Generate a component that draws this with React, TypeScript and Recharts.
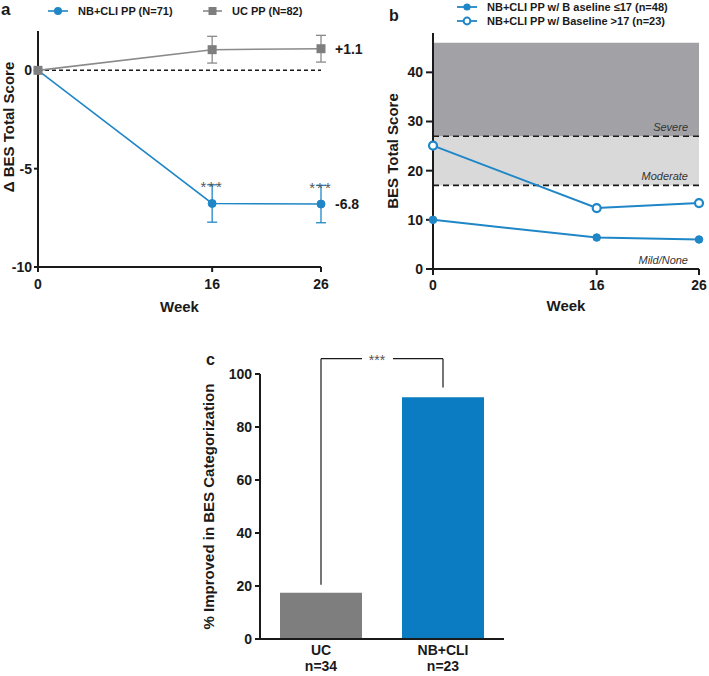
import React from 'react';
import {
  LineChart, Line, BarChart, Bar, Cell, XAxis, YAxis, ErrorBar,
  ReferenceLine, ReferenceArea, LabelList,
} from 'recharts';

// panel a: change from baseline
const weeks = [0, 16, 26];
const nbCliChange = [0, -6.77, -6.8];
const nbCliErr = [null, 0.95, 0.95];
const ucChange = [0, 1.05, 1.1];
const ucErr = [null, 0.68, 0.68];
const nbCliSig = [null, '***', '***'];

// panel b: absolute BES score by baseline group
const lowBaseline = [10.0, 6.4, 6.0];
const highBaseline = [25.1, 12.4, 13.4];
const severityBands = [
  { name: 'Mild/None', from: 0, to: 17, fill: 'none' },
  { name: 'Moderate', from: 17, to: 27, fill: '#d9d9da' },
  { name: 'Severe', from: 27, to: 46, fill: '#a2a2a6' },
];
const cutoffs = [17, 27];

// panel c: % improved
const groups = ['UC', 'NB+CLI'];
const groupN = [34, 23];
const pctImproved = [17.5, 91.2];
const bracketEnds = [20.5, 94.9];
const bracketTop = 105.8;

const FONT = '"Liberation Sans", Arial, Helvetica, sans-serif';
const BLUE = '#1f86c7';
const BAR_BLUE = '#0b7cc1';
const GREY = '#8a8a8a';
const GREY_MARK = '#7e7e7e';
const INK = '#1a1a1a';

const tick = { fill: INK, fontSize: 14, fontWeight: 700, fontFamily: FONT };
const title = { fill: INK, fontSize: 15, fontWeight: 700, fontFamily: FONT };
const axisLine = { stroke: INK, strokeWidth: 2 };
const tickLine = { stroke: INK, strokeWidth: 2 };

const dataA = weeks.map((w, i) => ({
  week: w,
  nb: nbCliChange[i],
  nbErr: nbCliErr[i],
  uc: ucChange[i],
  ucErr: ucErr[i],
  sig: nbCliSig[i],
  nbEnd: i === weeks.length - 1 ? nbCliChange[i] : null,
  ucEnd: i === weeks.length - 1 ? ucChange[i] : null,
}));

const dataB = weeks.map((w, i) => ({ week: w, low: lowBaseline[i], high: highBaseline[i] }));

const dataC = groups.map((g, i) => ({ group: g, pct: pctImproved[i] }));

const signed = (v: any) => (v == null ? '' : (v > 0 ? '+' : '') + Number(v).toFixed(1));

const SquareDot = (props: any) => {
  const { cx, cy, index } = props;
  if (cx == null || cy == null) return <g key={`sq-${index}`} />;
  return <rect key={`sq-${index}`} x={cx - 4.5} y={cy - 4.5} width={9} height={9} fill={GREY_MARK} />;
};

const GroupTick = (props: any) => {
  const { x, y, payload, index } = props;
  return (
    <text x={x} y={y} textAnchor="middle" fill={INK} fontSize={14} fontWeight={700} fontFamily={FONT}>
      <tspan x={x} dy={15.5}>{payload.value}</tspan>
      <tspan x={x} dy={16.5}>n={groupN[index]}</tspan>
    </text>
  );
};

// "***" sitting in a gap of the bracket's top bar
const StarGap = (props: any) => {
  const vb = props.viewBox || {};
  const cx = vb.x + vb.width / 2 - 5;
  const cy = vb.y;
  return (
    <g>
      <rect x={cx - 15} y={cy - 3} width={31} height={6} fill="#fff" />
      <text x={cx} y={cy + 6} textAnchor="middle" fill="#555" fontSize={14} fontFamily={FONT}>***</text>
    </g>
  );
};

function PanelA() {
  return (
    <LineChart width={372} height={320} data={dataA} margin={{ top: 31, right: 51, bottom: 3, left: 0 }}>
      <XAxis
        dataKey="week" type="number" domain={[0, 26]} ticks={weeks} height={50}
        axisLine={axisLine} tickLine={tickLine} tickSize={5} tickMargin={7} tick={tick}
        label={{ value: 'Week', position: 'center', dy: 15, ...title }}
      />
      <YAxis
        type="number" domain={[-10, 2]} ticks={[-10, -5, 0]} width={38}
        axisLine={axisLine} tickLine={tickLine} tickSize={4} tickMargin={2} tick={tick}
        label={{ value: 'Δ BES Total Score', angle: -90, position: 'center', dx: -10, dy: -22, ...title }}
      />
      <ReferenceLine y={0} stroke={INK} strokeWidth={1.5} strokeDasharray="4 3" />
      <Line dataKey="nb" stroke={BLUE} strokeWidth={1.6} isAnimationActive={false}
        dot={{ r: 4, fill: BLUE, stroke: BLUE, strokeWidth: 1 }}>
        <ErrorBar dataKey="nbErr" direction="y" width={5} stroke={BLUE} strokeWidth={1.3} />
        <LabelList dataKey="sig" position="top" offset={11} fill="#555" fontSize={15} letterSpacing={2} fontFamily={FONT} />
        <LabelList dataKey="nbEnd" position="right" offset={14} formatter={signed} fill={INK} fontSize={14} fontWeight={700} fontFamily={FONT} />
      </Line>
      <Line dataKey="uc" stroke={GREY} strokeWidth={1.6} isAnimationActive={false} dot={SquareDot}>
        <ErrorBar dataKey="ucErr" direction="y" width={5} stroke={GREY} strokeWidth={1.3} />
        <LabelList dataKey="ucEnd" position="right" offset={14} formatter={signed} fill={INK} fontSize={14} fontWeight={700} fontFamily={FONT} />
      </Line>
    </LineChart>
  );
}

function PanelB() {
  return (
    <LineChart width={349} height={320} data={dataB} margin={{ top: 33, right: 10, bottom: 1, left: 0 }}>
      {severityBands.map((b) => (
        <ReferenceArea
          key={b.name} y1={b.from} y2={b.to} fill={b.fill} fillOpacity={1} stroke="none"
          label={{ value: b.name, position: 'insideBottomRight', offset: 5, dx: -6, fill: '#333', fontSize: 11, fontStyle: 'italic', fontFamily: FONT }}
        />
      ))}
      {cutoffs.map((c) => (
        <ReferenceLine key={c} y={c} stroke={INK} strokeWidth={1.6} strokeDasharray="6 4" />
      ))}
      <XAxis
        dataKey="week" type="number" domain={[0, 26]} ticks={weeks} height={50}
        axisLine={axisLine} tickLine={tickLine} tickSize={6} tickMargin={5} tick={tick}
        label={{ value: 'Week', position: 'center', dy: 12, ...title }}
      />
      <YAxis
        type="number" domain={[0, 48]} ticks={[0, 10, 20, 30, 40]} width={73}
        axisLine={axisLine} tickLine={tickLine} tickSize={7} tickMargin={3} tick={tick}
        label={{ value: 'BES Total Score', angle: -90, position: 'center', dx: -3.5, ...title }}
      />
      <Line dataKey="low" stroke={BLUE} strokeWidth={2} isAnimationActive={false}
        dot={{ r: 3.8, fill: BLUE, stroke: BLUE, strokeWidth: 1 }} />
      <Line dataKey="high" stroke={BLUE} strokeWidth={2} isAnimationActive={false}
        dot={{ r: 4, fill: '#fff', stroke: BLUE, strokeWidth: 2.2 }} />
    </LineChart>
  );
}

function PanelC() {
  return (
    <BarChart width={360} height={336} data={dataC} margin={{ top: 34, right: 16, bottom: 1, left: 0 }}>
      <XAxis
        dataKey="group" height={36} axisLine={axisLine} tickLine={false} tickSize={0} tickMargin={0}
        tick={<GroupTick />} interval={0}
      />
      <YAxis
        type="number" domain={[0, 100]} ticks={[0, 20, 40, 60, 80, 100]} width={100}
        axisLine={axisLine} tickLine={tickLine} tickSize={5} tickMargin={3} tick={tick}
        label={{ value: '% Improved in BES Categorization', angle: -90, position: 'center', dx: -1, ...title }}
      />
      <Bar dataKey="pct" barSize={82} isAnimationActive={false}>
        {dataC.map((d, i) => (
          <Cell key={d.group} fill={i === 0 ? GREY_MARK : BAR_BLUE} />
        ))}
      </Bar>
      <ReferenceLine ifOverflow="visible" stroke={INK} strokeWidth={1.2}
        segment={[{ x: groups[0], y: bracketEnds[0] }, { x: groups[0], y: bracketTop }]} />
      <ReferenceLine ifOverflow="visible" stroke={INK} strokeWidth={1.2}
        segment={[{ x: groups[1], y: bracketEnds[1] }, { x: groups[1], y: bracketTop }]} />
      <ReferenceLine ifOverflow="visible" stroke={INK} strokeWidth={1.2}
        segment={[{ x: groups[0], y: bracketTop }, { x: groups[1], y: bracketTop }]}
        label={<StarGap />} />
    </BarChart>
  );
}

function Overlay() {
  const txt = { fontFamily: FONT, fontWeight: 700, fill: INK } as const;
  return (
    <svg width={709} height={676} style={{ position: 'absolute', left: 0, top: 0, pointerEvents: 'none' }}>
      <text x={1} y={15} fontSize={17} {...txt}>a</text>
      <text x={389} y={21} fontSize={16} {...txt}>b</text>
      <text x={206} y={365} fontSize={16} {...txt}>c</text>

      {/* legend a */}
      <line x1={48} y1={11} x2={68} y2={11} stroke={BLUE} strokeWidth={1.6} />
      <circle cx={58} cy={11} r={4} fill={BLUE} />
      <text x={78} y={15} fontSize={11} {...txt}>NB+CLI PP (N=71)</text>
      <line x1={203} y1={11} x2={222} y2={11} stroke={GREY} strokeWidth={1.6} />
      <rect x={208.5} y={7} width={8} height={8} fill={GREY_MARK} />
      <text x={232} y={15} fontSize={11} {...txt}>UC PP (N=82)</text>

      {/* legend b */}
      <line x1={457} y1={7} x2={477} y2={7} stroke={BLUE} strokeWidth={1.8} />
      <circle cx={467} cy={7} r={3.6} fill={BLUE} />
      <text x={487} y={11} fontSize={11} {...txt}>NB+CLI PP w/ B aseline ≤17 (n=48)</text>
      <line x1={457} y1={21} x2={477} y2={21} stroke={BLUE} strokeWidth={1.8} />
      <circle cx={467} cy={21} r={3.4} fill="#fff" stroke={BLUE} strokeWidth={2} />
      <text x={487} y={25} fontSize={11} {...txt}>NB+CLI PP w/ Baseline &gt;17 (n=23)</text>
    </svg>
  );
}

export default function App() {
  return (
    <div style={{ position: 'absolute', left: 0, top: 0, width: 709, height: 676, background: '#fff', fontFamily: FONT }}>
      <div style={{ position: 'absolute', left: 0, top: 0 }}><PanelA /></div>
      <div style={{ position: 'absolute', left: 360, top: 0 }}><PanelB /></div>
      <div style={{ position: 'absolute', left: 160, top: 340 }}><PanelC /></div>
      <Overlay />
    </div>
  );
}
